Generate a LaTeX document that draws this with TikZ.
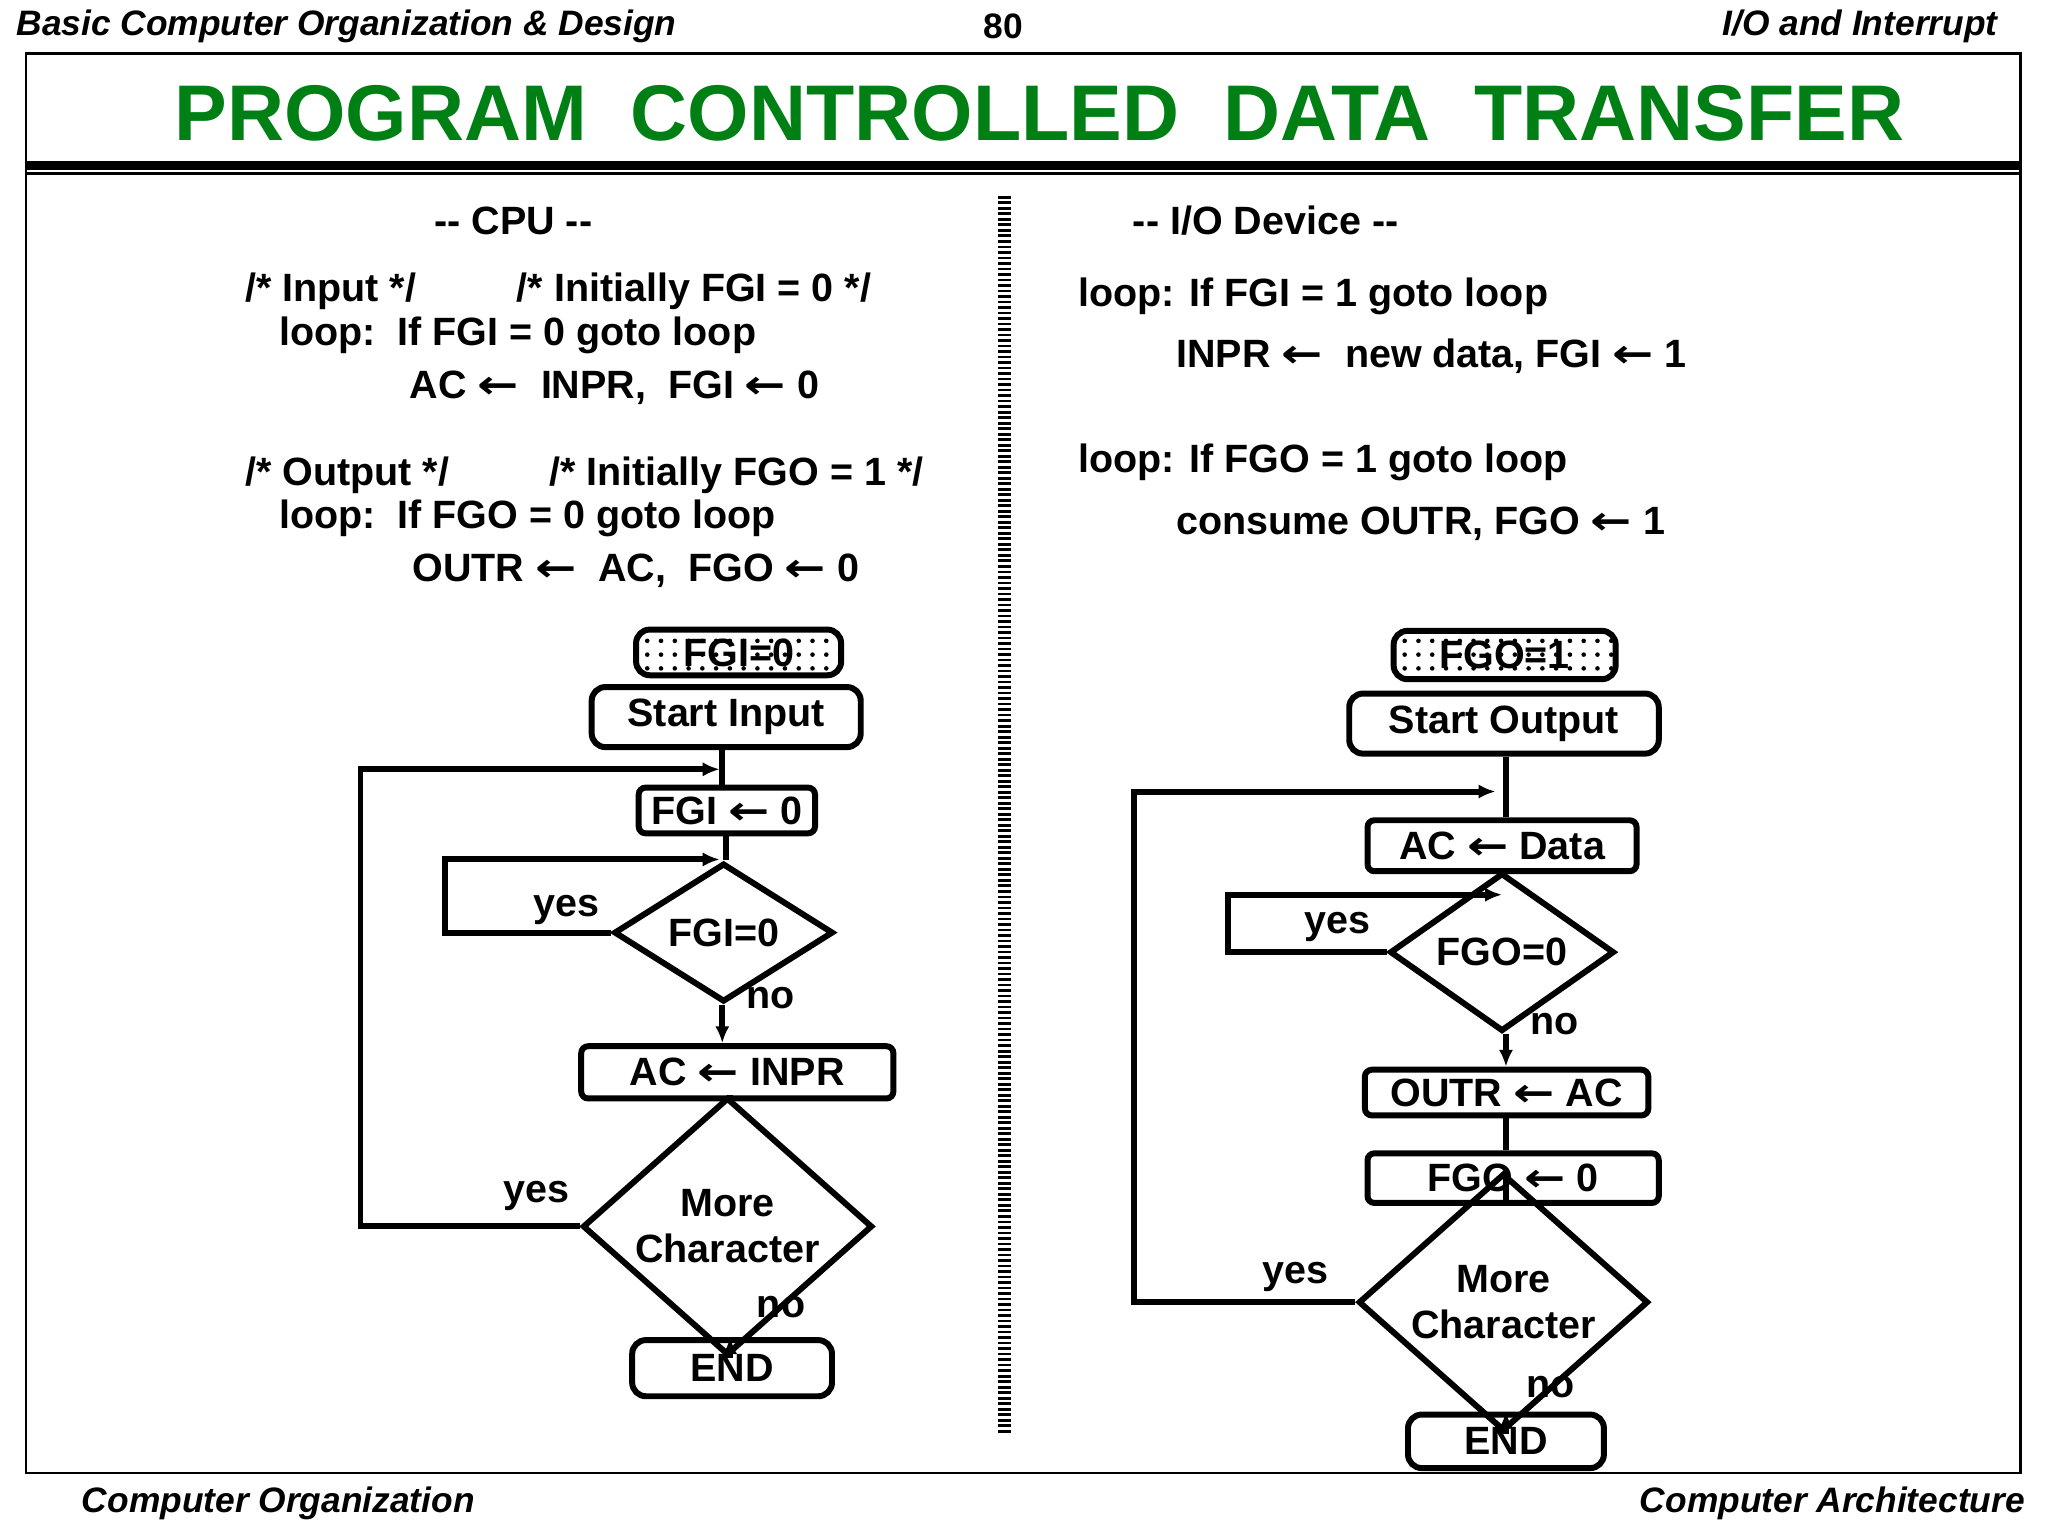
\documentclass[tikz,border=0pt]{standalone}
\usepackage{fontspec}
\setmainfont{Liberation Sans}
\newfontfamily\arrf{DejaVu Sans}
\newcommand{\la}{{\arrf\bfseries\scalebox{1.25}[1]{←}}}
\usetikzlibrary{shapes.geometric,patterns,arrows.meta}
\definecolor{tgreen}{RGB}{0,128,20}
\begin{document}
\begin{tikzpicture}[x=0.1mm,y=-0.1mm,
  every node/.style={font=\fontsize{8.6}{10}\selectfont\bfseries, inner sep=0pt},
  lbl/.style={anchor=west},
  box/.style={draw, line width=1.3pt, rounded corners=1.5pt},
  rbox/.style={draw, line width=1.3pt, rounded corners=3pt},
  dec/.style={draw, diamond, line width=1.3pt, align=center},
  ln/.style={line width=1.3pt},
  arr/.style={line width=1.3pt, -{Latex[length=1.3mm,width=1.1mm]}},
  hdr/.style={font=\fontsize{7.7}{10}\selectfont\bfseries\itshape}]
\useasboundingbox (0,0) rectangle (1568,1176);
% header / footer
\node[hdr,anchor=west] (h1) at (12,20) {Basic Computer Organization \& Design};
\node[font=\fontsize{7.7}{10}\selectfont\bfseries] (h2) at (768,20) {80};
\node[hdr,anchor=east] (h3) at (1530,20) {I/O and Interrupt};
\node[hdr,anchor=west] (f1) at (62,1151) {Computer Organization};
\node[hdr,anchor=east] (f2) at (1551,1151) {Computer Architecture};
\draw[line width=0.5pt] (20,41) rectangle (1547,1128);
\node[text=tgreen,font=\fontsize{17.2}{20}\selectfont\bfseries] (title) at (796,87) {PROGRAM\ \ CONTROLLED\ \ DATA\ \ TRANSFER};
\draw[line width=2pt] (20,127) -- (1547,127);
\draw[line width=0.7pt] (20,133) -- (1547,133);
\draw[line width=3pt, dash pattern=on 0.6pt off 0.6pt] (769,150) -- (769,1098);
% CPU text
\node (cpu) at (393,169) {-{}- CPU -{}-};
\node[lbl] (t1) at (187,223) {/* Input */};
\node[lbl] (t2) at (395,223) {/* Initially FGI = 0 */};
\node[lbl] (t3) at (213,257) {loop:\ \ If FGI = 0 goto loop};
\node[lbl] (t4) at (313,297) {AC \la\ \ INPR,\ \ FGI \la\ 0};
\node[lbl] (t5) at (187,364) {/* Output */};
\node[lbl] (t6) at (420,364) {/* Initially FGO = 1 */};
\node[lbl] (t7) at (213,397) {loop:\ \ If FGO = 0 goto loop};
\node[lbl] (t8) at (315,437) {OUTR \la\ \ AC,\ \ FGO \la\ 0};
% IO text
\node (io) at (969,169) {-{}- I/O Device -{}-};
\node[lbl] (u1) at (825,227) {loop: If FGI = 1 goto loop};
\node[lbl] (u2) at (900,273) {INPR \la\ \ new data, FGI \la\ 1};
\node[lbl] (u3) at (825,354) {loop: If FGO = 1 goto loop};
\node[lbl] (u4) at (900,401) {consume OUTR, FGO \la\ 1};
% left flowchart
\node[rbox, pattern=dots, minimum width=15.7mm, minimum height=3.5mm] (fgi0) at (565.5,499.5) {};
\node (fgi0t) at (fgi0) {FGI=0};
\node[rbox, minimum width=20.6mm, minimum height=4.6mm] (startin) at (556,549) {Start Input};
\node[box, minimum width=13.5mm, minimum height=3.5mm] (fgiset) at (556.5,620.5) {FGI \la\ 0};
\node[dec, minimum width=16.8mm, minimum height=7.2mm] (d1) at (554,714) {FGI=0};
\node[box, minimum width=23.9mm, minimum height=4mm] (acinpr) at (564.5,821) {AC \la\ INPR};
\node[dec, minimum width=22.2mm, minimum height=10.2mm] (d2) at (557,939) {More\\Character};
\node[rbox, minimum width=15.3mm, minimum height=4.3mm] (end1) at (560.5,1047.5) {END};
\coordinate (lp1) at (276,589);
\coordinate (lp2) at (341,658);
\draw[ln] (startin.south -| 553,0) -- (fgiset.north -| 553,0);
\draw[ln] (fgiset.south -| 556,0) -- (d1.north -| 556,0);
\draw[arr] (d1.south -| 553,0) -- (acinpr.north -| 553,0);
\draw[ln] (acinpr.south -| 559,0) -- (d2.north -| 559,0);
\draw[arr] (d2.south -| 559,0) -- (end1.north -| 559,0);
\draw[arr] (d2.west) -| (lp1) -- (lp1 -| 551,0);
\draw[arr] (d1.west) -| (lp2) -- (lp2 -| 551,0);
\node (y1) at (434,697) {yes};
\node (n1) at (590,764) {no};
\node (y2) at (411,916) {yes};
\node (n2) at (598,1001) {no};
% right flowchart
\node[rbox, pattern=dots, minimum width=17mm, minimum height=3.7mm] (fgo1) at (1152,501.5) {};
\node (fgo1t) at (fgo1) {FGO=1};
\node[rbox, minimum width=23.7mm, minimum height=4.6mm] (startout) at (1151.5,554) {Start Output};
\node[box, minimum width=20.6mm, minimum height=3.9mm] (acdata) at (1150,647.5) {AC \la\ Data};
\node[dec, minimum width=17.2mm, minimum height=7.6mm] (d3) at (1150,729) {FGO=0};
\node[box, minimum width=21.7mm, minimum height=3.5mm] (outr) at (1153.5,836.5) {OUTR \la\ AC};
\node[box, minimum width=22.3mm, minimum height=3.8mm] (fgoset) at (1158.5,902) {FGO \la\ 0};
\node[dec, minimum width=22.2mm, minimum height=10.2mm] (d4) at (1151,997) {More\\Character};
\node[rbox, minimum width=15mm, minimum height=4.1mm] (end2) at (1153,1103.5) {END};
\coordinate (lp3) at (868,606);
\coordinate (lp4) at (940,685);
\draw[ln] (startout.south -| 1153,0) -- (acdata.north -| 1153,0);
\draw[ln] (acdata.south -| 1150,0) -- (d3.north -| 1150,0);
\draw[arr] (d3.south -| 1153,0) -- (outr.north -| 1153,0);
\draw[ln] (outr.south -| 1153,0) -- (fgoset.north -| 1153,0);
\draw[ln] (fgoset.south -| 1153,0) -- (d4.north -| 1153,0);
\draw[arr] (d4.south -| 1153,0) -- (end2.north -| 1153,0);
\draw[arr] (d4.west) -| (lp3) -- (lp3 -| 1145,0);
\draw[arr] (d3.west) -| (lp4) -- (lp4 -| 1150,0);
\node (y3) at (1024,710) {yes};
\node (n3) at (1190,784) {no};
\node (y4) at (992,978) {yes};
\node (n4) at (1187,1062) {no};
\end{tikzpicture}
\end{document}
